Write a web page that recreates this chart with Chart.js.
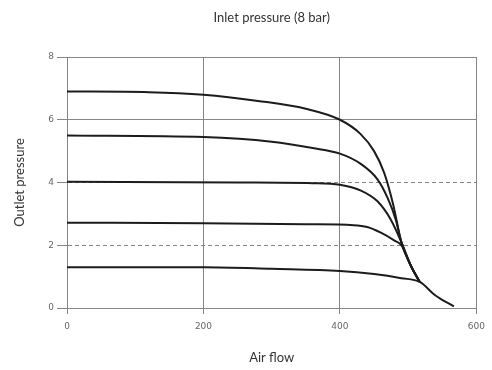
<!DOCTYPE html>
<html><head><meta charset="utf-8">
<script src="https://cdn.jsdelivr.net/npm/chart.js@4"></script>
<style>html,body{margin:0;padding:0;background:#fff}#wrap{width:492px;height:370px}</style>
</head><body><div id="wrap"><canvas id="c" width="492" height="370"></canvas></div>
<script>
const chartTitle = 'Inlet pressure (8 bar)';
const xTicks = [0, 200, 400, 600];
const yTicks = [0, 2, 4, 6, 8];
const curve1X = [0, 120, 200, 280, 350, 400, 430, 450, 465, 478, 490, 505, 517];
const curve1Y = [6.9, 6.88, 6.8, 6.6, 6.35, 6.0, 5.55, 5.0, 4.3, 3.3, 2.1, 1.3, 0.83];
const curve2X = [0, 200, 300, 360, 400, 430, 455, 470, 482, 490, 505, 517];
const curve2Y = [5.5, 5.45, 5.3, 5.1, 4.92, 4.6, 4.1, 3.5, 2.8, 2.1, 1.3, 0.83];
const curve3X = [0, 250, 360, 400, 430, 455, 475, 490, 505, 517];
const curve3Y = [4.02, 4.0, 3.98, 3.93, 3.75, 3.4, 2.8, 2.1, 1.3, 0.83];
const curve4X = [0, 200, 350, 420, 440, 460, 480, 490, 505, 517];
const curve4Y = [2.72, 2.7, 2.67, 2.64, 2.58, 2.4, 2.15, 2.0, 1.3, 0.83];
const curve5X = [0, 200, 300, 400, 450, 490, 517, 540, 567];
const curve5Y = [1.3, 1.3, 1.25, 1.18, 1.08, 0.95, 0.83, 0.4, 0.05];

const pts = (xs, ys) => xs.map((x, i) => ({x: x, y: ys[i]}));
const ds = (xs, ys) => ({data: pts(xs, ys), borderColor: '#1c1c1c', borderWidth: 2, pointRadius: 0, cubicInterpolationMode: 'monotone', fill: false});
const gridCol = '#8c8484';

const titlePlugin = {
  id: 'areaTitle',
  afterDraw(chart) {
    const ctx = chart.ctx, a = chart.chartArea;
    ctx.save();
    ctx.fillStyle = '#333';
    ctx.font = '13px Lato';
    ctx.textAlign = 'center';
    ctx.textBaseline = 'middle';
    ctx.fillText(chartTitle, (a.left + a.right) / 2, 18);
    ctx.restore();
  }
};

new Chart(document.getElementById('c'), {
  type: 'line',
  data: { datasets: [ds(curve1X, curve1Y), ds(curve2X, curve2Y), ds(curve3X, curve3Y), ds(curve4X, curve4Y), ds(curve5X, curve5Y)] },
  plugins: [titlePlugin],
  options: {
    responsive: false, animation: false,
    layout: { padding: { left: 0, right: 12, top: 57, bottom: 0 } },
    plugins: { legend: { display: false }, tooltip: { enabled: false }, title: { display: false } },
    scales: {
      x: {
        type: 'linear', min: 0, max: 600,
        afterBuildTicks: s => { s.ticks = xTicks.map(v => ({value: v})); },
        afterFit: s => { s.height = 62; },
        ticks: { color: '#666', font: { family: 'DejaVu Sans', size: 9 }, padding: 7 },
        grid: { color: gridCol, lineWidth: 1, tickLength: 6 },
        border: { color: gridCol },
        title: { display: true, text: 'Air flow', color: '#333', font: { family: 'Lato', size: 13 }, padding: { top: 18 } }
      },
      y: {
        type: 'linear', min: 0, max: 8,
        afterBuildTicks: s => { s.ticks = yTicks.map(v => ({value: v})); },
        afterFit: s => { s.width = 67; },
        ticks: { color: '#666', font: { family: 'DejaVu Sans', size: 9 }, padding: 3 },
        grid: { color: gridCol, lineWidth: 1, tickLength: 10 },
        border: { color: gridCol, dash: ctx => (ctx.tick && (ctx.tick.value === 2 || ctx.tick.value === 4)) ? [4, 3] : [] },
        title: { display: true, text: 'Outlet pressure', color: '#333', font: { family: 'Lato', size: 13 }, padding: { top: 12, bottom: 0 } }
      }
    }
  }
});
</script></body></html>
